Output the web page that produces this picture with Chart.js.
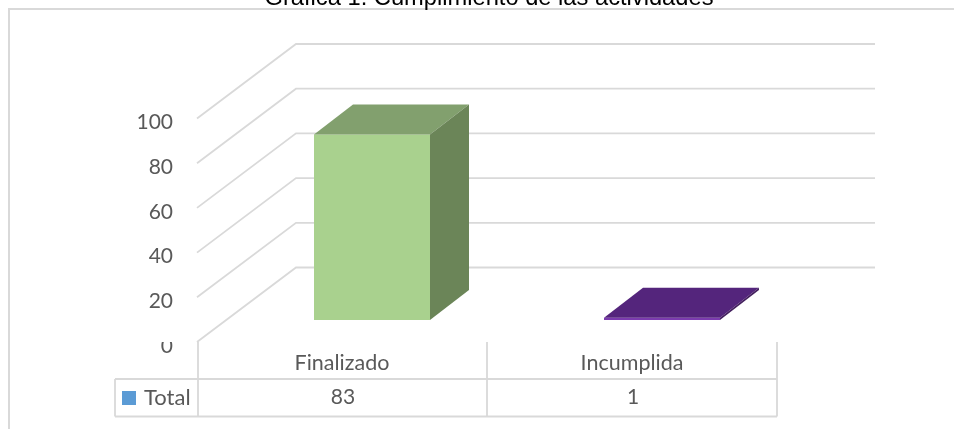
<!DOCTYPE html>
<html>
<head>
<meta charset="utf-8">
<title>Grafica 1</title>
<script src="https://cdn.jsdelivr.net/npm/chart.js@4"></script>
<style>
html, body { margin: 0; padding: 0; background: #fff; overflow: hidden; }
canvas { display: block; }
</style>
</head>
<body>
<canvas id="chart" width="954" height="429"></canvas>
<script>
var chartTitle = 'Grafica 1. Cumplimiento de las actividades'
var categories = ['Finalizado', 'Incumplida']
var seriesName = 'Total'
var seriesValues = [83, 1]
var yTicks = [0, 20, 40, 60, 80, 100]

var frontColors = ['#A9D18E', '#7B3BAE']
var topColors = ['#82A06E', '#54257C']
var sideColors = ['#6B8558', '#44205F']
var lineColor = '#D9D9D9'
var textColor = '#595959'

// the tick labels sit 4px under their wall line in the original
var labelDrop = 4
var wallDx = 99, wallDy = 74.5, wallRight = 875
var barShiftX = 30, barShiftY = 22
var barDepthX = 39, barDepthY = 30

function line(ctx, pts, width) {
    ctx.beginPath()
    ctx.moveTo(pts[0][0], pts[0][1])
    for (var i = 1; i < pts.length; i++) ctx.lineTo(pts[i][0], pts[i][1])
    ctx.strokeStyle = lineColor
    ctx.lineWidth = width
    ctx.stroke()
}

function poly(ctx, pts, color) {
    ctx.beginPath()
    ctx.moveTo(pts[0][0], pts[0][1])
    for (var i = 1; i < pts.length; i++) ctx.lineTo(pts[i][0], pts[i][1])
    ctx.closePath()
    ctx.fillStyle = color
    ctx.fill()
}

var frame3d = {
    id: 'frame3d',
    beforeDatasetsDraw: function(chart) {
        var ctx = chart.ctx, y = chart.scales.y, left = chart.chartArea.left
        ctx.save()
        line(ctx, [[9, 429], [9, 9], [954, 9]], 2)
        yTicks.forEach(function(v) {
            var py = y.getPixelForValue(v) - labelDrop
            line(ctx, [[left, py], [left + wallDx, py - wallDy], [wallRight, py - wallDy]], 1.8)
        })
        ctx.restore()
    },
    beforeDatasetDraw: function(chart) {
        chart.ctx.save()
        chart.ctx.translate(barShiftX, -(barShiftY + labelDrop))
    },
    afterDatasetDraw: function(chart, args) {
        var ctx = chart.ctx
        args.meta.data.forEach(function(bar, i) {
            var l = bar.x - bar.width / 2, r = bar.x + bar.width / 2
            poly(ctx, [[l, bar.y], [r, bar.y], [r + barDepthX, bar.y - barDepthY], [l + barDepthX, bar.y - barDepthY]], topColors[i])
            poly(ctx, [[r, bar.y], [r + barDepthX, bar.y - barDepthY], [r + barDepthX, bar.base - barDepthY], [r, bar.base]], sideColors[i])
        })
        ctx.restore()
    },
    afterDraw: function(chart) {
        var ctx = chart.ctx, x = chart.scales.x, area = chart.chartArea
        var left = area.left, right = area.right
        var tableTop = 342, rowLine = 379, tableBottom = 416.5, keyLeft = 115
        var midLine = (x.getPixelForTick(0) + x.getPixelForTick(1)) / 2
        ctx.save()
        // top of the 0 label is cut off in the original
        ctx.fillStyle = '#fff'
        ctx.fillRect(150, 332, 40, 10)
        line(ctx, [[keyLeft, rowLine], [right, rowLine]], 1.8)
        line(ctx, [[keyLeft, tableBottom], [right, tableBottom]], 1.8)
        line(ctx, [[keyLeft, rowLine], [keyLeft, tableBottom]], 1.8)
        line(ctx, [[left + 1, tableTop], [left + 1, tableBottom]], 1.8)
        line(ctx, [[midLine, tableTop], [midLine, tableBottom]], 1.8)
        line(ctx, [[right, tableTop], [right, tableBottom]], 1.8)
        ctx.fillStyle = '#5B9BD5'
        ctx.fillRect(122, 391, 14, 14)
        ctx.fillStyle = textColor
        ctx.textBaseline = 'middle'
        ctx.textAlign = 'left'
        ctx.font = '22px Lato'
        ctx.fillText(seriesName, 144, 397.5)
        ctx.textAlign = 'center'
        ctx.font = '21px Lato'
        seriesValues.forEach(function(v, i) {
            ctx.fillText(v, x.getPixelForTick(i) + 1, 397.5)
        })
        // title is centred on the page and runs off its top edge
        ctx.fillStyle = '#000'
        ctx.font = '23.7px "Liberation Sans"'
        ctx.textBaseline = 'alphabetic'
        ctx.fillText(chartTitle, 489, 4.5)
        ctx.restore()
    }
}

new Chart(document.getElementById('chart'), {
    type: 'bar',
    data: {
        labels: categories,
        datasets: [{
            label: seriesName,
            data: seriesValues,
            backgroundColor: frontColors,
            borderWidth: 0,
            clip: false,
            barPercentage: 0.4,
            categoryPercentage: 1
        }]
    },
    options: {
        responsive: false,
        animation: false,
        layout: { padding: { left: 0, right: 177, top: 122.5, bottom: 0 } },
        plugins: {
            legend: { display: false },
            tooltip: { enabled: false },
            title: { display: false }
        },
        scales: {
            x: {
                grid: { display: false, drawTicks: false },
                border: { display: false },
                ticks: { color: textColor, font: { family: 'Lato', size: 21.5 }, padding: 4, maxRotation: 0 },
                afterFit: function(scale) { scale.height = 83 }
            },
            y: {
                min: 0,
                max: 100,
                afterBuildTicks: function(scale) { scale.ticks = yTicks.map(function(v) { return { value: v } }) },
                grid: { display: false, drawTicks: false },
                border: { display: false },
                ticks: { color: textColor, font: { family: 'Lato', size: 21 }, padding: 24 },
                afterFit: function(scale) { scale.width = 197 }
            }
        }
    },
    plugins: [frame3d]
});
</script>
</body>
</html>
